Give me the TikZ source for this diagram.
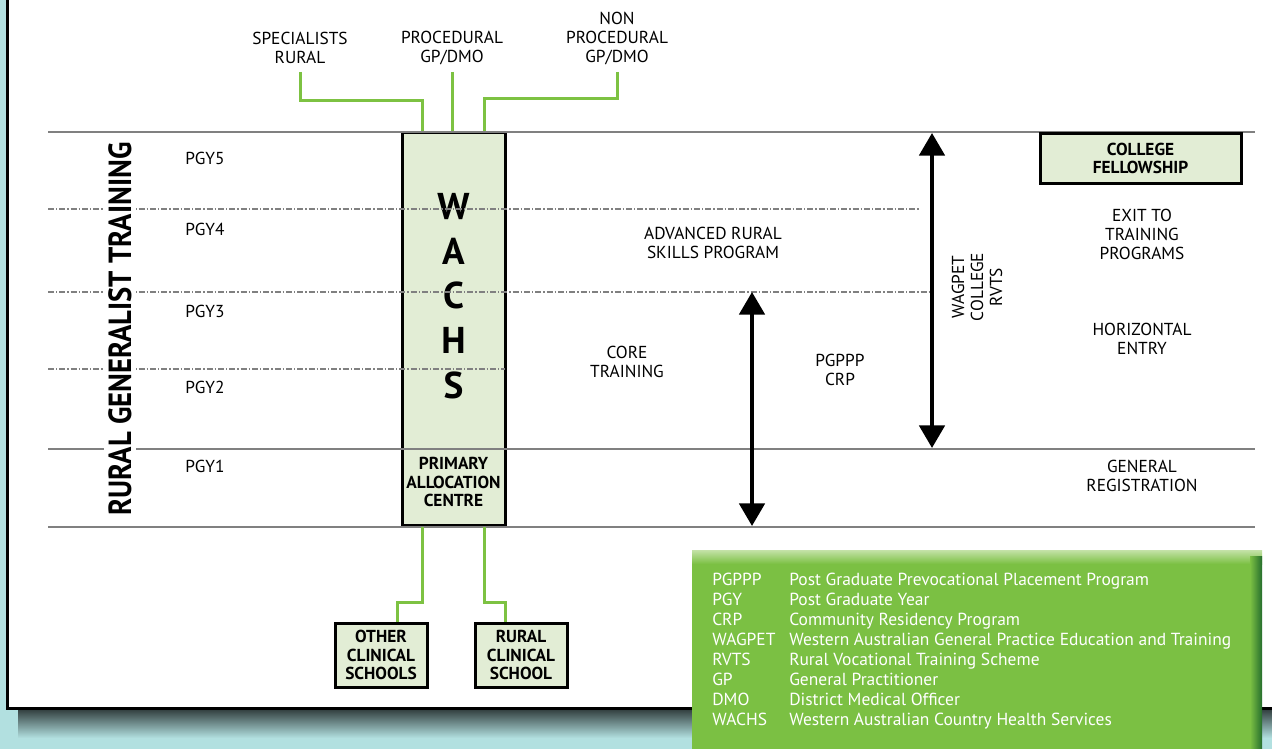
\documentclass[tikz,border=0pt]{standalone}
\usepackage{fontspec}
\setmainfont{PT Sans}
\usetikzlibrary{arrows.meta}
\definecolor{bg}{RGB}{178,224,224}
\definecolor{lgreen}{RGB}{226,237,213}
\definecolor{cgreen}{RGB}{125,194,66}
\definecolor{legendgreen}{RGB}{123,192,67}
\definecolor{legendlight}{RGB}{196,226,168}
\definecolor{darkgreen}{RGB}{38,110,45}
\definecolor{lineg}{RGB}{128,128,128}
\begin{document}
\begin{tikzpicture}[x=0.75pt,y=-0.75pt,
 lbl/.style={align=center, font=\fontsize{13}{14.25}\selectfont, inner sep=0pt},
 box/.style={draw=black, line width=2.25pt, fill=lgreen, inner sep=0pt, align=center, font=\bfseries\fontsize{13}{14}\selectfont},
 conn/.style={draw=cgreen, line width=2.25pt},
 gridline/.style={draw=lineg, line width=1.5pt},
 dgrid/.style={draw=lineg, line width=1.1pt, dash pattern=on 4.5pt off 1.5pt on 1pt off 1.5pt},
 arr/.style={line width=3pt, {Triangle[width=19pt,length=17pt]}-{Triangle[width=19pt,length=17pt]}}
]
\useasboundingbox (0,0) rectangle (1272,749);
\fill[bg] (0,0) rectangle (1272,749);
% frame shadow
\shade[top color=black!75!bg, bottom color=bg] (18,708) rectangle (1290,738);
\fill[white, draw=black, line width=2.25pt] (7,-10) rectangle (1290,708);

% WACHS box
\node[box, minimum width=77.25pt, minimum height=294pt] (wachs) at (453.5,329) {};
\node[inner sep=0pt, align=center, font=\bfseries\fontsize{28}{33.5}\selectfont] (wachstxt) at (453.5,296) {W\\A\\C\\H\\S};
\node[inner sep=0pt, align=center, font=\bfseries\fontsize{13}{14}\selectfont] (pac) at (453.5,482) {PRIMARY\\ALLOCATION\\CENTRE};

% grid lines
\draw[gridline] (48,132) -- (1255,132);
\draw[gridline] (48,449) -- (1255,449);
\draw[gridline] (48,527) -- (1255,527);
\draw[dgrid] (48,209) -- (920,209);
\draw[dgrid] (48,292) -- (930,292);
\draw[dgrid] (48,369) -- (505,369);

% title
\node[rotate=90, fill=white, inner sep=3pt, font=\bfseries\fontsize{24}{24}\selectfont] (title) at (120,329) {\scalebox{0.895}[1]{RURAL GENERALIST TRAINING}};

% PGY labels
\node[lbl] (pgy5) at (205,158) {PGY5};
\node[lbl] (pgy4) at (205,229) {PGY4};
\node[lbl] (pgy3) at (205,311) {PGY3};
\node[lbl] (pgy2) at (205,387) {PGY2};
\node[lbl] (pgy1) at (205,466) {PGY1};

% top labels
\node[lbl] (spec) at (300,48) {SPECIALISTS\\RURAL};
\node[lbl] (proc) at (452,48) {PROCEDURAL\\GP/DMO};
\node[lbl] (nonproc) at (617,39) {NON\\PROCEDURAL\\GP/DMO};
\coordinate (ytop) at (0,72);
\coordinate (yh1) at (0,101);
\coordinate (yh2) at (0,99);
\draw[conn] (spec.south |- ytop) |- ([xshift=-23.6pt]wachs.north |- yh1) -- ([xshift=-23.6pt]wachs.north);
\draw[conn] (proc.south |- ytop) -- (proc.south |- wachs.north);
\draw[conn] (nonproc.south |- ytop) |- ([xshift=23.3pt]wachs.north |- yh2) -- ([xshift=23.3pt]wachs.north);

% bottom boxes
\node[box, minimum width=69pt, minimum height=48pt] (other) at (381,655) {OTHER\\CLINICAL\\SCHOOLS};
\node[box, minimum width=69pt, minimum height=48pt] (rural) at (521,655) {RURAL\\CLINICAL\\SCHOOL};
\coordinate (yb) at (0,602);
\draw[conn] ([xshift=-23.6pt]wachs.south) -- ([xshift=-23.6pt]wachs.south |- yb) -| ([xshift=12pt]other.north);
\draw[conn] ([xshift=23.3pt]wachs.south) -- ([xshift=23.3pt]wachs.south |- yb) -| ([xshift=-12pt]rural.north);

% college fellowship
\node[box, minimum width=150.75pt, minimum height=36.75pt] (college) at (1140.5,158.5) {COLLEGE\\FELLOWSHIP};

% middle labels
\node[lbl] (arsp) at (713,243) {ADVANCED RURAL\\SKILLS PROGRAM};
\node[lbl] (core) at (627,362) {CORE\\TRAINING};
\node[lbl] (pgppp) at (840,370) {PGPPP\\CRP};
\node[lbl, rotate=90] (wagpet) at (977,287) {WAGPET\\COLLEGE\\RVTS};

% right labels
\node[lbl] (exit) at (1142,234) {EXIT TO\\TRAINING\\PROGRAMS};
\node[lbl] (horiz) at (1142,339) {HORIZONTAL\\ENTRY};
\node[lbl] (genreg) at (1142,476) {GENERAL\\REGISTRATION};

% arrows
\coordinate (a1t) at (752,292);
\coordinate (a1b) at (752,526);
\coordinate (a2t) at (932,133);
\coordinate (a2b) at (932,448);
\draw[arr] (a1t) -- (a1b);
\draw[arr] (a2t) -- (a2b);

% legend
\fill[legendgreen] (692,550) rectangle (1262,760);
\shade[top color=legendlight, bottom color=legendgreen] (692,550) rectangle (1262,564);
\shade[left color=legendgreen, right color=darkgreen] (1250,556) rectangle (1262,760);
\node[anchor=north west, inner sep=0pt, text=white, font=\fontsize{13.1}{15}\selectfont] (legend) at (712,571)
{\begin{tabular}{@{}p{57.75pt}@{}l@{}}
PGPPP & Post Graduate Prevocational Placement Program\\
PGY & Post Graduate Year\\
CRP & Community Residency Program\\
WAGPET & Western Australian General Practice Education and Training\\
RVTS & Rural Vocational Training Scheme\\
GP & General Practitioner\\
DMO & District Medical Officer\\
WACHS & Western Australian Country Health Services
\end{tabular}};
\end{tikzpicture}
\end{document}
